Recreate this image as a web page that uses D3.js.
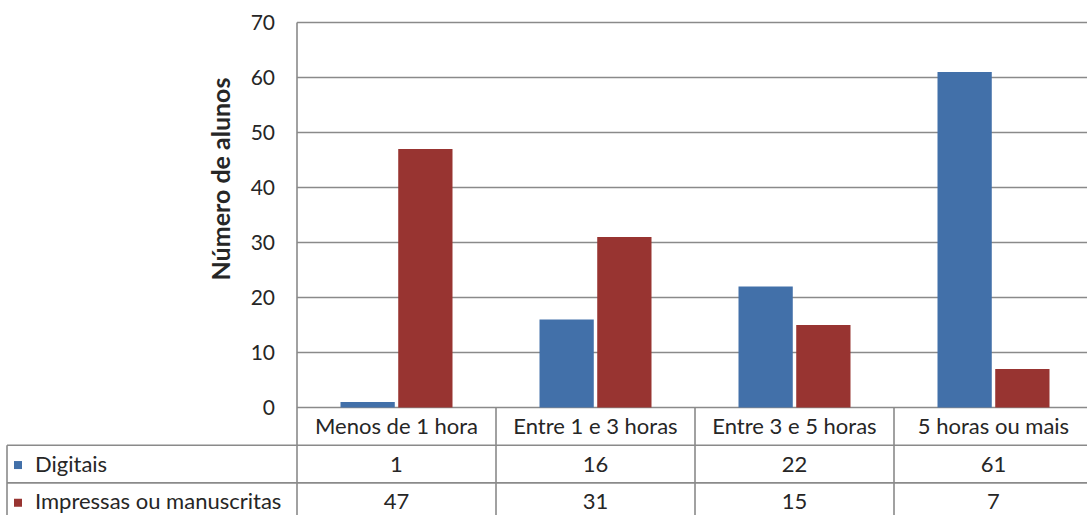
<!DOCTYPE html>
<html>
<head>
<meta charset="utf-8">
<script src="https://cdn.jsdelivr.net/npm/d3@7"></script>
<style>
  html, body { margin: 0; padding: 0; background: #fff; }
  svg { display: block; }
  text { font-family: Lato, "Open Sans", sans-serif; fill: #262626; }
</style>
</head>
<body>
<svg id="chart" width="1087" height="515"></svg>
<script>
// Tempo de leitura por tipo de material
const categories = ["Menos de 1 hora", "Entre 1 e 3 horas", "Entre 3 e 5 horas", "5 horas ou mais"];
const seriesNames = ["Digitais", "Impressas ou manuscritas"];
const digitais = [1, 16, 22, 61];
const impressas = [47, 31, 15, 7];
const yTicks = [0, 10, 20, 30, 40, 50, 60, 70];
const colors = ["#4270a9", "#983431"];

const seriesValues = [digitais, impressas];

const svg = d3.select("#chart");
const W = 1087, H = 515;

// plot frame
const plotLeft = 297;
const colW = 199;
const plotTop = 22.5, zeroY = 407.5;
const rowH = 37.7;
const legendLeft = 7;

const x0 = d3.scaleBand().domain(categories).range([plotLeft, plotLeft + colW * categories.length]).padding(0);
const groupW = 112;
const x1 = d3.scaleBand().domain(seriesNames)
  .range([(colW - groupW) / 2, (colW + groupW) / 2]).paddingInner(0.06);
const y = d3.scaleLinear().domain([0, 70]).range([zeroY, plotTop]);

const lineColor = "#8a8a8a";

// gridlines
svg.append("g").selectAll("line").data(yTicks).join("line")
  .attr("x1", plotLeft).attr("x2", W)
  .attr("y1", d => y(d)).attr("y2", d => y(d))
  .attr("stroke", lineColor).attr("stroke-width", 1.6);

// y tick labels
const yAxis = d3.axisLeft(y).tickValues(yTicks).tickSize(0).tickPadding(22);
const ya = svg.append("g").attr("transform", `translate(${plotLeft},0)`).call(yAxis);
ya.select(".domain").remove();
ya.selectAll("text").attr("font-size", 21).attr("fill", "#262626")
  .style("font-family", "Lato, 'Open Sans', sans-serif");

// y axis title
svg.append("text")
  .attr("transform", `translate(230,${(plotTop + zeroY) / 2 - 36}) rotate(-90)`)
  .attr("text-anchor", "middle")
  .attr("font-size", 25).attr("font-weight", 700)
  .text("Número de alunos");

// bars
const groups = svg.append("g").selectAll("g").data(categories).join("g")
  .attr("transform", d => `translate(${x0(d)},0)`);
groups.selectAll("rect")
  .data((c, i) => seriesNames.map((s, k) => ({ s, k, v: seriesValues[k][i] })))
  .join("rect")
  .attr("x", d => x1(d.s))
  .attr("width", x1.bandwidth())
  .attr("y", d => y(d.v))
  .attr("height", d => zeroY - y(d.v))
  .attr("fill", d => colors[d.k]);

// data table
const tableRight = W;
const rowTops = [zeroY, zeroY + rowH, zeroY + 2 * rowH];
const table = svg.append("g");

// horizontal lines
[rowTops[1], rowTops[2]].forEach(ry => {
  table.append("line").attr("x1", legendLeft).attr("x2", tableRight)
    .attr("y1", ry).attr("y2", ry)
    .attr("stroke", lineColor).attr("stroke-width", 1.6);
});

// vertical lines
table.append("line").attr("x1", legendLeft).attr("x2", legendLeft)
  .attr("y1", rowTops[1]).attr("y2", H)
  .attr("stroke", lineColor).attr("stroke-width", 1.6);
table.append("line").attr("x1", plotLeft).attr("x2", plotLeft)
  .attr("y1", plotTop).attr("y2", H)
  .attr("stroke", lineColor).attr("stroke-width", 1.6);
table.selectAll("line.sep").data(categories.slice(1)).join("line")
  .attr("class", "sep")
  .attr("x1", d => x0(d)).attr("x2", d => x0(d))
  .attr("y1", zeroY).attr("y2", H)
  .attr("stroke", lineColor).attr("stroke-width", 1.6);

// text baseline offset inside each table row
const baseOff = 26.5;

// category labels
table.selectAll("text.cat").data(categories).join("text")
  .attr("class", "cat")
  .attr("x", d => x0(d) + colW / 2)
  .attr("y", rowTops[0] + baseOff)
  .attr("text-anchor", "middle")
  .attr("font-size", 22)
  .text(d => d);

// series rows: legend key + values
seriesNames.forEach((s, k) => {
  const rTop = rowTops[k + 1];
  const cy = rTop + rowH / 2;
  table.append("rect")
    .attr("x", 14).attr("y", cy - 3).attr("width", 8).attr("height", 8)
    .attr("fill", colors[k]);
  table.append("text")
    .attr("x", 35).attr("y", rTop + baseOff)
    .attr("font-size", 22)
    .text(s);
  table.selectAll(`text.v${k}`).data(categories).join("text")
    .attr("class", `v${k}`)
    .attr("x", d => x0(d) + colW / 2)
    .attr("y", rTop + baseOff)
    .attr("text-anchor", "middle")
    .attr("font-size", 22)
    .text((d, i) => seriesValues[k][i]);
});
</script>
</body>
</html>
